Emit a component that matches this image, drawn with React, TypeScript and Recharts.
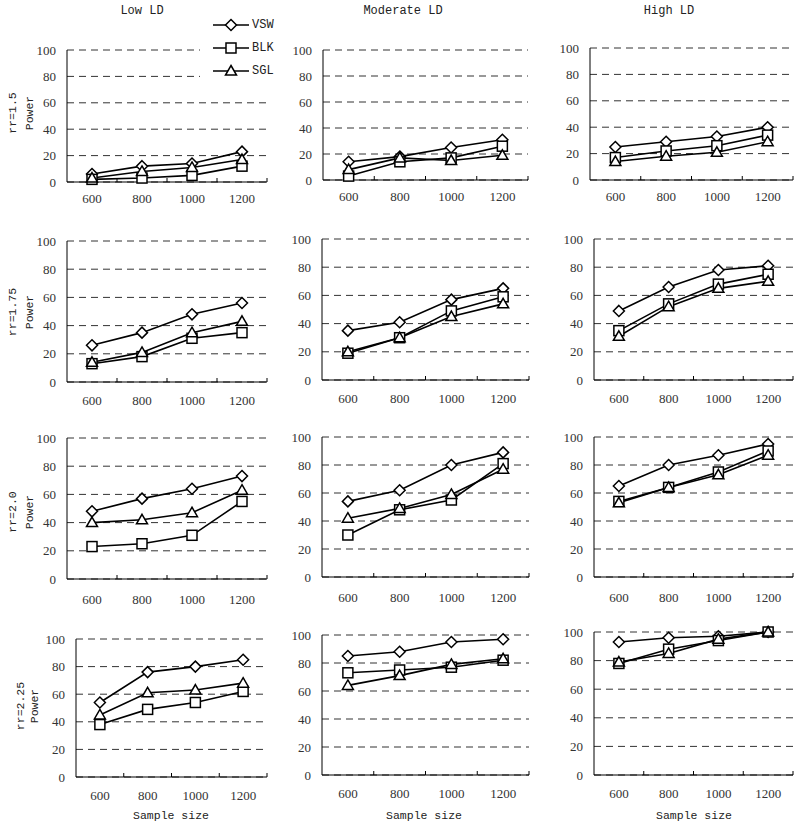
import React from "react";
import { LineChart, Line, XAxis, YAxis, CartesianGrid } from "recharts";

// ---------- data ----------
const sampleSizes = ["600", "800", "1000", "1200"];
const ldTitles = ["Low LD", "Moderate LD", "High LD"];
const rrLabels = ["rr=1.5", "rr=1.75", "rr=2.0", "rr=2.25"];
const seriesNames = ["VSW", "BLK", "SGL"];
const powerTicks = [0, 20, 40, 60, 80, 100];

// Power per method, each row: [Low LD, Moderate LD, High LD] across sample sizes
const vswRr150 = [[6, 12, 14, 23], [14, 18, 25, 31], [25, 29, 33, 40]];
const blkRr150 = [[2, 3, 5, 12], [3, 14, 17, 26], [17, 22, 26, 34]];
const sglRr150 = [[3, 8, 11, 17], [8, 17, 15, 19], [14, 18, 21, 29]];

const vswRr175 = [[26, 35, 48, 56], [35, 41, 57, 65], [49, 66, 78, 81]];
const blkRr175 = [[13, 18, 31, 35], [19, 30, 49, 59], [35, 54, 68, 75]];
const sglRr175 = [[14, 21, 35, 43], [20, 30, 45, 54], [31, 52, 65, 70]];

const vswRr200 = [[48, 57, 64, 73], [54, 62, 80, 89], [65, 80, 87, 95]];
const blkRr200 = [[23, 25, 31, 55], [30, 48, 55, 81], [54, 64, 75, 90]];
const sglRr200 = [[40, 42, 47, 63], [42, 49, 59, 77], [53, 64, 73, 87]];

const vswRr225 = [[54, 76, 80, 85], [85, 88, 95, 97], [93, 96, 97, 100]];
const blkRr225 = [[38, 49, 54, 62], [73, 75, 77, 82], [78, 88, 94, 100]];
const sglRr225 = [[45, 61, 63, 68], [64, 71, 79, 83], [79, 85, 95, 100]];

const vswRows = [vswRr150, vswRr175, vswRr200, vswRr225];
const blkRows = [blkRr150, blkRr175, blkRr200, blkRr225];
const sglRows = [sglRr150, sglRr175, sglRr200, sglRr225];

// ---------- layout ----------
// plot rect per panel: [left, top(100), right, bottom(0)]
const plotRects = [
  [[67, 50, 267, 182], [323, 50, 528, 180], [590, 48, 793, 180]],
  [[67, 241, 267, 382], [322, 239, 529, 380], [594, 239, 793, 380]],
  [[67, 438, 267, 579], [322, 437, 529, 577], [594, 437, 793, 577]],
  [[76, 639, 267, 777], [322, 635, 529, 775], [594, 632, 793, 775]],
];
const xTickMargins = [12, 14, 16, 14];
const titleX = [142, 403, 669];
const rowLabelPos = [
  { rr: 12, pw: 29, y: 113 },
  { rr: 12, pw: 29, y: 312 },
  { rr: 12, pw: 29, y: 512 },
  { rr: 20, pw: 34, y: 706 },
];
const sampleLabelX = [171, 424, 694];

const YW = 50;
const MT = 8;
const MR = 6;
const XH = 34;
const MONO = "'Liberation Mono', monospace";
const SERIF = "'Liberation Serif', serif";

type Shape = "diamond" | "square" | "triangle";
const shapes: Shape[] = ["diamond", "square", "triangle"];
const keys = ["vsw", "blk", "sgl"];

function Marker({ shape, cx, cy }: { shape: Shape; cx: number; cy: number }) {
  const common = { fill: "#fff", stroke: "#000", strokeWidth: 1.5 };
  if (shape === "diamond") {
    const r = 5.5;
    return (
      <polygon
        {...common}
        points={`${cx},${cy - r} ${cx + r},${cy} ${cx},${cy + r} ${cx - r},${cy}`}
      />
    );
  }
  if (shape === "square") {
    return <rect {...common} x={cx - 5} y={cy - 5} width={10} height={10} />;
  }
  return (
    <polygon
      {...common}
      points={`${cx},${cy - 5.5} ${cx + 5.5},${cy + 4} ${cx - 5.5},${cy + 4}`}
    />
  );
}

function makeXTick(margin: number) {
  return function XTick(props: any) {
    const { x, y, payload } = props;
    const v = payload.value;
    if (Number.isInteger(v)) {
      return (
        <text
          x={x}
          y={y}
          dy="0.71em"
          textAnchor="middle"
          fill="#333"
          fontSize={13}
          fontFamily={SERIF}
        >
          {sampleSizes[v - 1]}
        </text>
      );
    }
    const axisY = y - margin;
    return <line x1={x} x2={x} y1={axisY} y2={axisY - 4} stroke="#000" strokeWidth={1} />;
  };
}

function Panel({ row, col }: { row: number; col: number }) {
  const [L, T, R, B] = plotRects[row][col];
  const data = sampleSizes.map((_, i) => ({
    x: i + 1,
    vsw: vswRows[row][col][i],
    blk: blkRows[row][col][i],
    sgl: sglRows[row][col][i],
  }));
  const width = R - L + YW + MR;
  const height = B - T + MT + XH;
  const XTick = makeXTick(xTickMargins[row]);
  return (
    <div style={{ position: "absolute", left: L - YW, top: T - MT, width, height }}>
      <LineChart
        width={width}
        height={height}
        data={data}
        margin={{ top: MT, right: MR, left: 0, bottom: 0 }}
      >
        <CartesianGrid vertical={false} stroke="#333" strokeDasharray="7 5" />
        <XAxis
          dataKey="x"
          type="number"
          domain={[0.5, 4.5]}
          ticks={[1, 1.5, 2, 2.5, 3, 3.5, 4, 4.5]}
          interval={0}
          tickLine={false}
          tickSize={0}
          tickMargin={xTickMargins[row]}
          axisLine={{ stroke: "#000", strokeWidth: 1 }}
          tick={<XTick />}
          height={XH}
        />
        <YAxis
          type="number"
          domain={[0, 100]}
          ticks={powerTicks}
          interval={0}
          width={YW}
          tickLine={false}
          tickSize={0}
          tickMargin={11}
          axisLine={{ stroke: "#000", strokeWidth: 1 }}
          tick={{ fill: "#333", fontSize: 13, fontFamily: SERIF }}
        />
        {keys.map((k, si) => (
          <Line
            key={k}
            dataKey={k}
            name={seriesNames[si]}
            type="linear"
            stroke="#000"
            strokeWidth={1.6}
            isAnimationActive={false}
            dot={(p: any) => (
              <Marker key={`${k}-${p.index}`} shape={shapes[si]} cx={p.cx} cy={p.cy} />
            )}
            activeDot={false}
          />
        ))}
      </LineChart>
    </div>
  );
}

function Overlay() {
  const legendY = [25, 48, 71];
  return (
    <svg
      width={800}
      height={824}
      style={{ position: "absolute", left: 0, top: 0, pointerEvents: "none" }}
    >
      {ldTitles.map((t, i) => (
        <text
          key={t}
          x={titleX[i]}
          y={11}
          textAnchor="middle"
          dominantBaseline="central"
          fontSize={12}
          fontFamily={MONO}
          fill="#222"
        >
          {t}
        </text>
      ))}
      {rrLabels.map((r, i) => {
        const p = rowLabelPos[i];
        return (
          <g key={r}>
            <text
              x={p.rr}
              y={p.y}
              transform={`rotate(-90, ${p.rr}, ${p.y})`}
              textAnchor="middle"
              dominantBaseline="central"
              fontSize={11.5}
              fontFamily={MONO}
              fill="#222"
            >
              {r}
            </text>
            <text
              x={p.pw}
              y={p.y}
              transform={`rotate(-90, ${p.pw}, ${p.y})`}
              textAnchor="middle"
              dominantBaseline="central"
              fontSize={11.5}
              fontFamily={MONO}
              fill="#222"
            >
              Power
            </text>
          </g>
        );
      })}
      {sampleLabelX.map((x, i) => (
        <text
          key={i}
          x={x}
          y={815}
          textAnchor="middle"
          dominantBaseline="central"
          fontSize={11.5}
          fontFamily={MONO}
          fill="#222"
        >
          Sample size
        </text>
      ))}
      <rect x={200} y={12} width={78} height={72} fill="#fff" />
      {seriesNames.map((n, i) => (
        <g key={n}>
          <line x1={213} x2={249} y1={legendY[i]} y2={legendY[i]} stroke="#000" strokeWidth={1.6} />
          <Marker shape={shapes[i]} cx={231} cy={legendY[i]} />
          <text
            x={252}
            y={legendY[i]}
            dominantBaseline="central"
            fontSize={12}
            fontFamily={MONO}
            fill="#222"
          >
            {n}
          </text>
        </g>
      ))}
    </svg>
  );
}

export default function App() {
  return (
    <div
      style={{
        position: "absolute",
        left: 0,
        top: 0,
        width: 800,
        height: 824,
        background: "#fff",
        overflow: "hidden",
      }}
    >
      {plotRects.map((r, ri) =>
        r.map((_, ci) => <Panel key={`${ri}-${ci}`} row={ri} col={ci} />)
      )}
      <Overlay />
    </div>
  );
}
